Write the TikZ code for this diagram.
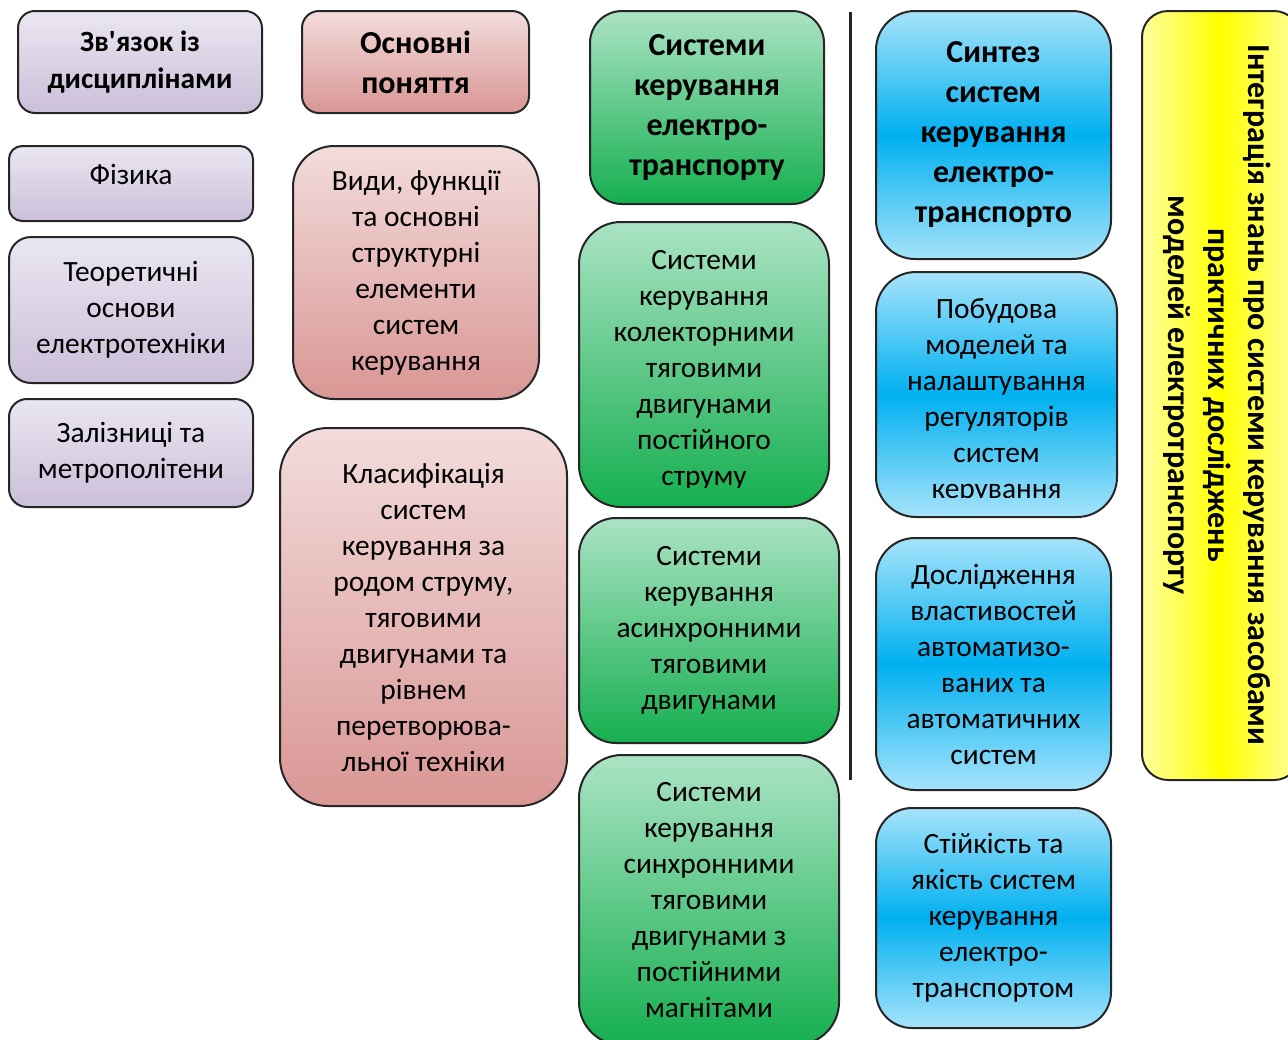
\documentclass[tikz,border=0pt]{standalone}
\usepackage{fontspec}
\setmainfont{Carlito}[Ligatures=TeXOff]
\usepackage{tikz}

\definecolor{lilactop}{HTML}{EAE6F1}
\definecolor{lilacbot}{HTML}{CBBFD9}
\definecolor{rosetop}{HTML}{F2DCDB}
\definecolor{rosebot}{HTML}{D99694}
\definecolor{greentop}{HTML}{ABE3C4}
\definecolor{greenbot}{HTML}{15AF4F}
\definecolor{bluelight}{HTML}{A6E3FA}
\definecolor{bluemid}{HTML}{00B0F0}
\definecolor{yellowlight}{HTML}{FFFF9E}
\definecolor{yellowmid}{HTML}{FFFF00}

\begin{document}
\begin{tikzpicture}[x=0.5pt, y=-0.5pt,
box/.style={draw=black!85, line width=1pt, inner sep=0pt, align=center, font=\fontsize{14.7}{18}\selectfont},
bodytext/.style={inner sep=0pt, align=center, font=\fontsize{14.7}{18}\selectfont},
headtext/.style={font=\bfseries\fontsize{16}{20}\selectfont},
lilacbox/.style={box, top color=lilactop, bottom color=lilacbot},
rosebox/.style={box, top color=rosetop, bottom color=rosebot},
greenbox/.style={box, top color=greentop, bottom color=greenbot},
bluebox/.style={box, top color=bluelight, bottom color=bluelight, middle color=bluemid}]

\useasboundingbox (0,0) rectangle (1288,1039);

% related disciplines
\node[lilacbox, rounded corners=8.5pt, minimum width=122pt, minimum height=51pt,
  font=\bfseries\fontsize{14.7}{18.5}\selectfont] (relhead) at (140,62) {Зв'язок із\\дисциплінами};
\node[lilacbox, rounded corners=6.5pt, minimum width=122pt, minimum height=37.5pt, text depth=9pt] (physics) at (131,183.5) {Фізика};
\node[lilacbox, rounded corners=11pt, minimum width=122pt, minimum height=73pt] (theory) at (131,310) {Теоретичні\\основи\\електротехніки};
\node[lilacbox, rounded corners=9pt, minimum width=122pt, minimum height=54pt] (railway) at (131,453) {Залізниці та\\метрополітени};

% basic notions
\node[rosebox, rounded corners=8.5pt, minimum width=113.5pt, minimum height=51pt,
  font=\bfseries\fontsize{16}{20}\selectfont] (notionhead) at (415.5,62) {Основні\\поняття};
\node[rosebox, rounded corners=20.5pt, minimum width=123pt, minimum height=126.5pt] (kinds) at (416,272.5) {Види, функції\\та основні\\структурні\\елементи\\систем\\керування};
\node[rosebox, rounded corners=24pt, minimum width=143.5pt, minimum height=189pt] (classes) at (423.5,617) {Класифікація\\систем\\керування за\\родом струму,\\тяговими\\двигунами та\\рівнем\\перетворюва-\\льної техніки};

% control systems
\node[greenbox, headtext, rounded corners=16pt, minimum width=117pt, minimum height=96.5pt] (ctrlhead) at (707,107.5) {Системи\\керування\\електро-\\транспорту};
\node[greenbox, rounded corners=21pt, minimum width=125pt, minimum height=142.5pt] (dcbox) at (704,364.5) {};
\begin{scope}
\clip (579,222) rectangle (829,487);
\node[bodytext] (dctext) at (704,370) {Системи\\керування\\колекторними\\тяговими\\двигунами\\постійного\\струму};
\end{scope}
\node[greenbox, rounded corners=18.5pt, minimum width=130pt, minimum height=112.5pt] (async) at (709,630.5) {Системи\\керування\\асинхронними\\тяговими\\двигунами};
\node[greenbox, rounded corners=21.5pt, minimum width=130pt, minimum height=145pt] (sync) at (709,900) {Системи\\керування\\синхронними\\тяговими\\двигунами з\\постійними\\магнітами};

% divider
\coordinate (divtop) at (850,12);
\coordinate (divbot) at (850,780);
\draw[line width=1.5pt, black!85] (divtop) -- (divbot);

% synthesis
\node[bluebox, headtext, rounded corners=19.5pt, minimum width=117.5pt, minimum height=124pt] (synthead) at (993.5,135) {Синтез\\систем\\керування\\електро-\\транспорто};
\node[bluebox, rounded corners=20pt, minimum width=120.5pt, minimum height=122.5pt] (modelbox) at (996.5,394.5) {};
\begin{scope}
\clip (876,272) rectangle (1117,497);
\node[bodytext] (modeltext) at (996.5,401) {Побудова\\моделей та\\налаштування\\регуляторів\\систем\\керування};
\end{scope}
\node[bluebox, rounded corners=19.5pt, minimum width=117.5pt, minimum height=126pt] (study) at (993.5,664) {Дослідження\\властивостей\\автоматизо-\\ваних та\\автоматичних\\систем};
\node[bluebox, rounded corners=18pt, minimum width=117.5pt, minimum height=110pt] (stable) at (993.5,918) {Стійкість та\\якість систем\\керування\\електро-\\транспортом};

% integration
\node[draw=black!85, line width=1pt, rounded corners=13pt, minimum width=79pt, minimum height=384.5pt,
  left color=yellowlight, right color=yellowlight, middle color=yellowmid] (integr) at (1221,395.5) {};
\node[inner sep=0pt, align=center, rotate=-90, font=\bfseries\fontsize{16}{20}\selectfont] (integrtext) at (1217,395) {Інтеграція знань про системи керування засобами\\практичних досліджень\\моделей електротранспорту};
\end{tikzpicture}
\end{document}
